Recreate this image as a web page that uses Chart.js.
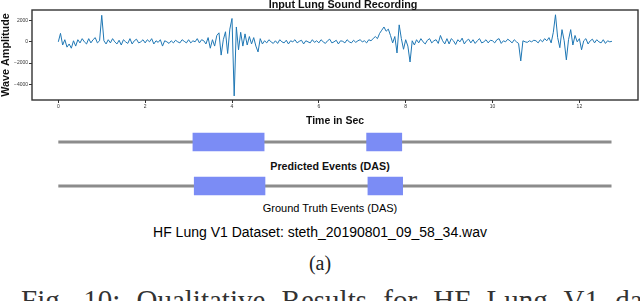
<!DOCTYPE html>
<html>
<head>
<meta charset="utf-8">
<script src="https://cdn.jsdelivr.net/npm/chart.js@4.4.1/dist/chart.umd.min.js"></script>
<style>
  body { margin: 0; width: 640px; height: 301px; overflow: hidden; background: #fff; position: relative; font-family: "Liberation Sans", Arial, sans-serif; }
  canvas { position: absolute; left: 0; }
  .lbl { position: absolute; white-space: nowrap; transform: translateX(-50%); color: #111; }
</style>
</head>
<body>
<canvas id="wave" width="640" height="128" style="top:0"></canvas>
<canvas id="pred" width="640" height="24" style="top:130px"></canvas>
<canvas id="truth" width="640" height="24" style="top:174px"></canvas>

<div class="lbl" style="left:343px; top:-1px; font: bold 10.8px/10.8px 'Liberation Sans'">Input Lung Sound Recording</div>
<div class="lbl" style="left:330px; top:161px; font: bold 10.7px/10.7px 'Liberation Sans'">Predicted Events (DAS)</div>
<div class="lbl" style="left:330px; top:203px; font: 11px/11px 'Liberation Sans'; color:#000">Ground Truth Events (DAS)</div>
<div class="lbl" style="left:320px; top:225px; font: 14px/14px 'Liberation Sans'; color:#000">HF Lung V1 Dataset: steth_20190801_09_58_34.wav</div>
<div class="lbl" style="left:320px; top:253px; font: 20px/20px 'Liberation Serif'; color:#222">(a)</div>
<div style="position:absolute; left:21px; top:286px; white-space:nowrap; font: 29px/29px 'Liberation Serif'; color:#333; word-spacing:9px">Fig. 10: Qualitative Results for HF Lung V1 dataset</div>

<script>
// waveform, one value every 0.05 s
const sampleStep = 0.05;
const amplitude = [
  0, 800, -300, 200, -500, -200, -600, 100, -400, 200, -100, 300, 0, -200, 300, -100, 200, 400, -100, 100,
  2500, 100, -200, 200, -100, 300, 0, -200, 150, -300, 200, 0, -150, 300, -200, 100, 250, -100, 0, 200,
  -100, 200, 0, 300, -200, 100, -50, 200, -400, 100, 0, -150, 100, -100, 150, 0, -100, 200, 50, -100,
  200, -100, 100, 0, 300, -100, 200, 100, -200, 400, -600, 200, -400, 600, 850, -1250, 200, 950, -1100, 1200,
  2200, -5100, 1400, -750, 900, -400, 750, -300, 500, -200, 400, -400, -950, 300, -200, 100, -100, 200, 0, -150,
  100, -150, 200, 0, -100, 150, -200, 100, 0, 200, -100, 50, 150, -200, 100, 0, -100, 200, -50, 100,
  -100, 200, 0, -150, 100, 250, -100, 0, 150, -200, 100, 50, -100, 200, 0, -100, 150, -50, 100, 200,
  0, 100, -100, 200, 100, 300, 500, 300, 800, 1100, 1400, 1000, 1200, 600, -100, 500, -1050, 1600, 300, -700,
  200, -400, -1900, 100, -300, 200, -100, 300, 0, -200, 150, 300, -100, 100, 200, -150, 600, 100, -200, 300,
  -200, 300, 100, -250, 200, 0, 350, -200, 100, 250, -100, 200, -150, 100, 300, -100, 0, 200, -100, 150,
  100, -100, 200, 300, -150, 100, 0, 250, 100, -100, 200, 0, -150, -1800, 100, 0, -50, 100, 0, 150,
  100, -100, 200, 0, 300, 100, 400, -100, 900, 2550, 400, -550, 1150, 100, -1700, 200, 1150, -300, 600, 0,
  300, -750, 100, 300, -200, 100, 250, -100, 200, 0, -100, 200, -150, 100, 0, 50
];
const xTicks = [0, 2, 4, 6, 8, 10, 12];
const yTicks = [-4000, -2000, 0, 2000];

// events in seconds [start, end]
const predictedEvents = [[3.10, 4.74], [7.10, 7.91]];
const truthEvents = [[3.13, 4.76], [7.13, 7.93]];
const recordingEnd = 12.74;

const xMin = -0.606, xMax = 13.35;

const frame = {
  id: 'frame',
  afterDraw(chart) {
    const { ctx, chartArea: a } = chart;
    ctx.save();
    ctx.strokeStyle = '#333';
    ctx.lineWidth = 1.4;
    ctx.strokeRect(a.left, a.top, a.right - a.left, a.bottom - a.top);
    ctx.restore();
  }
};

new Chart(document.getElementById('wave'), {
  type: 'line',
  data: {
    datasets: [{
      data: amplitude.map((v, i) => ({ x: i * sampleStep, y: v })),
      borderColor: '#1f77b4',
      borderWidth: 1,
      pointRadius: 0,
      tension: 0
    }]
  },
  options: {
    responsive: false,
    animation: false,
    devicePixelRatio: 1,
    layout: { padding: { left: 0, right: 2, top: 10, bottom: 0 } },
    plugins: { legend: { display: false }, tooltip: { enabled: false } },
    scales: {
      x: {
        type: 'linear', min: xMin, max: xMax,
        afterFit(s) { s.height = 28; },
        afterBuildTicks(s) { s.ticks = xTicks.map(v => ({ value: v })); },
        grid: { drawOnChartArea: false, tickLength: 3, color: '#333' },
        border: { display: false },
        ticks: { font: { size: 5 }, color: '#333', padding: 1, maxRotation: 0, autoSkip: false },
        title: { display: true, text: 'Time in Sec', color: '#111', font: { size: 10.5, weight: 'bold' }, padding: { top: 0, bottom: 1 } }
      },
      y: {
        min: -5480, max: 3000,
        afterFit(s) { s.width = 32; },
        afterBuildTicks(s) { s.ticks = yTicks.map(v => ({ value: v })); },
        grid: { drawOnChartArea: false, tickLength: 3, color: '#333' },
        border: { display: false },
        ticks: { font: { size: 5 }, color: '#333', padding: 1, callback: v => v < 0 ? '\u2212' + Math.abs(v) : String(v) },
        title: { display: true, text: 'Wave Amplitude', color: '#111', font: { size: 10.8, weight: 'bold' }, padding: 0 }
      }
    }
  },
  plugins: [frame]
});

function trackChart(id, events) {
  new Chart(document.getElementById(id), {
    type: 'bar',
    data: {
      datasets: [
        {
          type: 'bar', indexAxis: 'y',
          data: events.map(e => ({ x: e, y: 0 })),
          backgroundColor: '#7b8cf5',
          borderWidth: 0,
          barThickness: 18,
          order: 0
        },
        {
          type: 'line',
          data: [{ x: 0, y: 0 }, { x: recordingEnd, y: 0 }],
          borderColor: '#8c8c8c',
          borderWidth: 3,
          pointRadius: 0,
          order: 1
        }
      ]
    },
    options: {
      indexAxis: 'y',
      responsive: false,
      animation: false,
      devicePixelRatio: 1,
      layout: { padding: { left: 32, right: 2, top: 0, bottom: 0 } },
      plugins: { legend: { display: false }, tooltip: { enabled: false } },
      scales: {
        x: { type: 'linear', min: xMin, max: xMax, display: false },
        y: { type: 'linear', min: -1, max: 1, display: false }
      }
    }
  });
}

trackChart('pred', predictedEvents);
trackChart('truth', truthEvents);
</script>
</body>
</html>
